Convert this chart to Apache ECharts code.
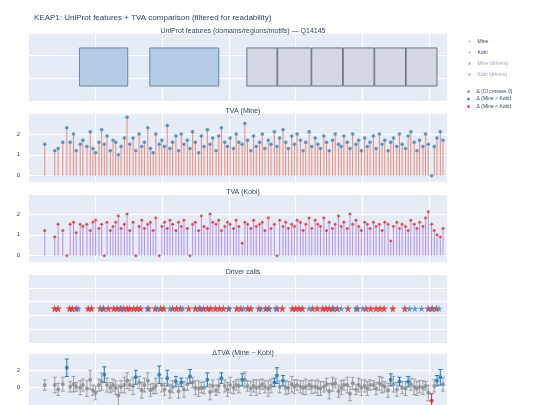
<!DOCTYPE html>
<html><head><meta charset="utf-8">
<script src="https://cdn.jsdelivr.net/npm/echarts@6/dist/echarts.min.js"></script>
<style>html,body{margin:0;padding:0;background:#fff}#c{width:540px;height:405px}</style>
</head><body><div id="c"></div>
<script>
// UniProt features: [start, end, kind]
const featStart = [77,182,327,373,424,471,518,565];
const featEnd   = [149,285,372,423,470,517,564,611];
const featKind  = ['domain','domain','repeat','repeat','repeat','repeat','repeat','repeat'];

const positions = [25,40,45,52,58,63,68,72,78,82,
 88,93,97,101,106,110,114,118,123,127,
 131,135,139,144,148,152,157,161,166,170,
 174,179,183,187,191,196,200,204,208,212,
 216,221,225,229,233,238,242,246,250,255,
 259,263,268,272,276,281,285,289,294,298,
 302,307,311,315,320,324,328,333,337,341,
 346,350,354,359,363,368,372,376,381,385,
 389,394,398,402,407,411,415,420,424,429,
 433,437,442,446,450,455,459,464,468,472,
 477,481,485,490,494,498,503,507,511,516,
 520,525,529,533,538,542,546,551,555,559,
 564,568,572,577,581,585,590,594,598,603,
 607,611,616,620];
const tvaMine = [1.5,1.2,1.3,1.6,2.3,1.6,2.0,1.2,1.5,1.7,
 1.4,2.1,1.3,1.1,1.6,2.2,1.5,1.9,1.2,1.7,
 1.6,1.0,1.4,1.8,2.8,1.5,1.8,1.2,2.0,1.4,
 1.6,2.3,1.3,1.1,2.0,1.5,1.7,1.4,2.4,1.3,
 1.6,1.9,1.2,2.0,1.5,1.7,1.3,2.1,1.6,1.1,
 1.9,1.4,2.2,1.5,1.8,1.2,1.9,2.3,1.6,1.4,
 1.8,1.3,2.0,1.6,1.5,2.5,1.7,1.2,1.9,1.4,
 1.6,2.0,1.3,1.7,1.5,2.1,1.4,1.8,2.2,1.6,
 1.3,1.9,1.5,2.0,1.7,1.2,1.6,2.1,1.4,1.8,
 1.5,1.3,1.9,1.6,1.2,1.7,2.0,1.5,1.4,1.9,
 1.6,1.3,2.0,1.5,1.7,1.2,1.8,1.4,1.6,1.9,
 1.3,2.0,1.5,1.7,1.2,1.6,1.8,1.4,2.0,1.5,
 1.3,1.9,2.1,1.6,1.2,1.7,1.4,2.0,1.5,0.0,
 1.4,1.8,2.1,1.7];
const tvaKobi = [1.2,0.9,1.5,1.2,0.0,1.5,1.6,1.1,1.5,1.4,
 1.5,1.2,1.6,1.7,1.3,1.5,0.0,1.6,1.2,1.4,
 1.6,1.9,1.3,1.5,2.0,1.2,1.6,0.0,1.4,1.7,
 1.3,1.5,1.6,1.2,1.8,0.0,1.4,1.6,1.3,1.7,
 1.5,1.2,1.6,1.4,1.7,1.3,0.0,1.5,1.6,1.2,
 1.9,1.4,1.3,2.0,1.6,1.5,1.7,1.2,1.4,1.6,
 1.5,1.3,1.7,1.4,0.6,1.6,1.5,1.3,1.7,1.4,
 1.5,1.6,1.2,1.8,1.3,1.5,0.0,1.7,1.4,1.6,
 1.3,1.5,1.4,1.7,1.6,1.2,1.5,1.8,1.3,1.7,
 1.5,1.4,1.8,1.2,1.6,1.3,1.5,1.9,1.4,1.6,
 1.3,2.0,1.5,1.7,1.4,1.2,1.6,1.5,1.3,1.6,
 1.4,1.5,1.2,1.6,1.5,0.7,1.4,1.6,1.3,1.5,
 1.4,1.2,1.7,1.5,1.3,1.6,1.4,1.8,2.1,1.5,
 1.2,1.0,0.9,1.3];
// half-width of the delta CI
const deltaErr = [0.6,0.9,0.7,0.8,1.0,0.6,0.9,0.5,0.8,0.7,
 0.9,1.1,0.6,0.8,0.7,1.0,0.9,0.8,0.6,0.7,
 0.8,1.2,0.7,0.9,0.9,0.6,1.0,0.8,0.7,0.9,
 0.8,0.9,0.7,0.6,0.9,1.0,0.8,0.7,0.9,0.8,
 0.7,0.6,0.8,0.5,0.9,0.7,0.8,0.6,0.8,0.9,
 0.6,0.7,0.8,0.9,0.7,0.6,0.8,0.6,0.7,0.8,
 0.9,0.7,0.6,0.8,0.7,0.9,0.6,0.8,0.7,0.9,
 0.8,0.6,0.7,0.9,0.8,0.5,0.9,0.7,0.6,0.8,
 0.7,0.9,0.8,0.6,0.7,0.8,0.9,0.5,0.8,0.7,
 0.9,0.8,0.6,0.7,0.9,0.8,0.5,0.7,0.8,0.6,
 0.9,0.8,0.7,0.6,0.8,0.9,0.7,0.8,0.6,0.5,
 0.7,0.8,0.9,0.6,0.8,0.7,0.9,0.8,0.5,0.7,
 0.8,0.6,0.7,0.9,0.8,0.7,0.8,0.5,0.9,0.8,
 0.7,0.6,0.9,0.8];
const driverKobi = [40,45,62,66,72,90,95,108,113,120,128,133,138,143,148,152,158,163,168,180,
 190,198,203,216,222,228,240,250,256,262,268,273,280,286,292,300,312,318,328,333,
 345,355,360,372,380,395,400,405,410,425,432,440,445,450,455,462,478,492,505,512,
 520,526,532,545,563,598,604,610];
const driverMine = [75,112,140,178,193,212,231,258,300,322,348,360,370,420,457,468,490,500,570,578,588,603,614];

const X0 = 0, X1 = 626;
const grids = [
  {top:33,height:68},{top:113,height:69},{top:194,height:68},{top:274,height:69},{top:353,height:75}
];
const C = '#2a3f5f';
const xAxes = grids.map((g,i)=>({gridIndex:i,type:'value',min:X0,max:X1,interval:100,
  axisLine:{show:false},axisTick:{show:false},axisLabel:{show:false},
  splitLine:{lineStyle:{color:'#fff',width:1}}}));
const yLab = {fontSize:6,color:C,margin:8};
const yAxes = [
  {gridIndex:0,min:0,max:1,interval:0.333,axisLabel:{show:false}},
  {gridIndex:1,min:-0.3,max:3,splitNumber:3,axisLabel:{...yLab,showMinLabel:false,showMaxLabel:false}},
  {gridIndex:2,min:-0.3,max:2.95,splitNumber:3,axisLabel:{...yLab,showMinLabel:false,showMaxLabel:false}},
  {gridIndex:3,min:-1,max:1,interval:0.4,axisLabel:{show:false}},
  {gridIndex:4,min:-2,max:4,interval:2,axisLabel:{...yLab,formatter:v=>(v===0||v===2)?String(v):''}}
].map(a=>({type:'value',axisLine:{show:false},axisTick:{show:false},
  splitLine:{lineStyle:{color:'#fff',width:1}},...a}));

const feats = featStart.map((s,i)=>[s,featEnd[i],featKind[i]]);
const mineDots = positions.map((p,i)=>[p,tvaMine[i]]);
const kobiDots = positions.map((p,i)=>[p,tvaKobi[i]]);
const delta = positions.map((p,i)=>{const d=+(tvaMine[i]-tvaKobi[i]).toFixed(2);return [p,d,d-deltaErr[i],d+deltaErr[i]];});
const dGrey = delta.filter(d=>d[2]<=0&&d[3]>=0), dBlue = delta.filter(d=>d[2]>0), dRed = delta.filter(d=>d[3]<0);

function errBars(data,color){
  return {type:'custom',xAxisIndex:4,yAxisIndex:4,data,clip:true,silent:true,
    renderItem:(params,api)=>{
      const x=api.value(0),lo=api.coord([x,api.value(2)]),hi=api.coord([x,api.value(3)]);
      const st={stroke:color,lineWidth:1};
      return {type:'group',children:[
        {type:'line',shape:{x1:lo[0],y1:lo[1],x2:hi[0],y2:hi[1]},style:st},
        {type:'line',shape:{x1:lo[0]-2,y1:lo[1],x2:lo[0]+2,y2:lo[1]},style:st},
        {type:'line',shape:{x1:hi[0]-2,y1:hi[1],x2:hi[0]+2,y2:hi[1]},style:st}]};
    }};
}
const STAR='path://M50 0L61 35L98 35L68 57L79 91L50 70L21 91L32 57L2 35L39 35Z';

const option = {
  animation:false,
  title:[
    {text:'KEAP1: UniProt features + TVA comparison (filtered for readability)',left:29,top:9,textStyle:{fontSize:8,fontWeight:'normal',color:C}},
    ...[['UniProt features (domains/regions/motifs) — Q14145',23],['TVA (Mine)',103],['TVA (Kobi)',184],['Driver calls',264],['ΔTVA (Mine − Kobi)',345]]
      .map(([t,y])=>({text:t,left:238,top:y,textAlign:'center',textStyle:{fontSize:7,fontWeight:'normal',color:C}}))
  ],
  grid:grids.map(g=>({left:28,right:93,top:g.top,height:g.height,show:true,backgroundColor:'#e5ecf6',borderWidth:0})),
  xAxis:xAxes, yAxis:yAxes,
  legend:[
    {orient:'vertical',left:462,top:34,itemGap:6,itemWidth:6,itemHeight:3,textStyle:{fontSize:5,color:C},
      data:[{name:'Mine',icon:'circle'},{name:'Kobi',icon:'circle'},
        {name:'Mine (drivers)',icon:'circle',itemStyle:{opacity:0.45},textStyle:{color:'#9aa5b8'}},
        {name:'Kobi (drivers)',icon:'circle',itemStyle:{opacity:0.35},textStyle:{color:'#9aa5b8'}}]},
    {orient:'vertical',left:462,top:84,itemGap:2.5,itemWidth:6,itemHeight:3,textStyle:{fontSize:5,color:C},
      data:[{name:'Δ (CI crosses 0)',icon:'circle'},{name:'Δ (Mine > Kobi)',icon:'circle'},{name:'Δ (Mine < Kobi)',icon:'circle'}]}
  ],
  series:[
    {type:'custom',xAxisIndex:0,yAxisIndex:0,data:feats,silent:true,
      renderItem:(params,api)=>{
        const a=api.coord([api.value(0),0.78]),b=api.coord([api.value(1),0.22]);
        const dom=feats[params.dataIndex][2]==='domain';
        return {type:'rect',shape:{x:a[0],y:a[1],width:b[0]-a[0],height:b[1]-a[1]},
          style:{fill:dom?'#b4cce5':'#d4d8e2',stroke:dom?'#6d84a3':'#687283',lineWidth:1}};
      }},
    {type:'bar',xAxisIndex:1,yAxisIndex:1,data:mineDots,barWidth:1,itemStyle:{color:'rgba(239,110,85,0.8)'},silent:true},
    {name:'Mine',type:'scatter',xAxisIndex:1,yAxisIndex:1,data:mineDots,symbolSize:4,itemStyle:{color:'#3a7fb8',borderColor:'#fff',borderWidth:0.4}},
    {type:'bar',xAxisIndex:2,yAxisIndex:2,data:kobiDots,barWidth:1,itemStyle:{color:'rgba(160,100,240,0.7)'},silent:true},
    {name:'Kobi',type:'scatter',xAxisIndex:2,yAxisIndex:2,data:kobiDots,symbolSize:3.5,itemStyle:{color:'#d62728',borderColor:'#fff',borderWidth:0.5}},
    {name:'Kobi (drivers)',type:'scatter',xAxisIndex:3,yAxisIndex:3,data:driverKobi.map(p=>[p,0]),symbol:STAR,symbolSize:8,itemStyle:{color:'#d62728'}},
    {name:'Mine (drivers)',type:'scatter',xAxisIndex:3,yAxisIndex:3,data:driverMine.map(p=>[p,0]),symbol:STAR,symbolSize:7,itemStyle:{color:'#3a86c8'}},
    errBars(dGrey,'rgba(128,128,128,0.7)'),
    errBars(dBlue,'#1f77b4'),
    errBars(dRed,'#d62728'),
    {name:'Δ (CI crosses 0)',type:'scatter',xAxisIndex:4,yAxisIndex:4,data:dGrey.map(d=>[d[0],d[1]]),symbolSize:4,itemStyle:{color:'#888'}},
    {name:'Δ (Mine > Kobi)',type:'scatter',xAxisIndex:4,yAxisIndex:4,data:dBlue.map(d=>[d[0],d[1]]),symbolSize:4,itemStyle:{color:'#1f77b4'}},
    {name:'Δ (Mine < Kobi)',type:'scatter',xAxisIndex:4,yAxisIndex:4,data:dRed.map(d=>[d[0],d[1]]),symbolSize:4,itemStyle:{color:'#d62728'}}
  ]
};
echarts.init(document.getElementById('c')).setOption(option);
</script></body></html>
